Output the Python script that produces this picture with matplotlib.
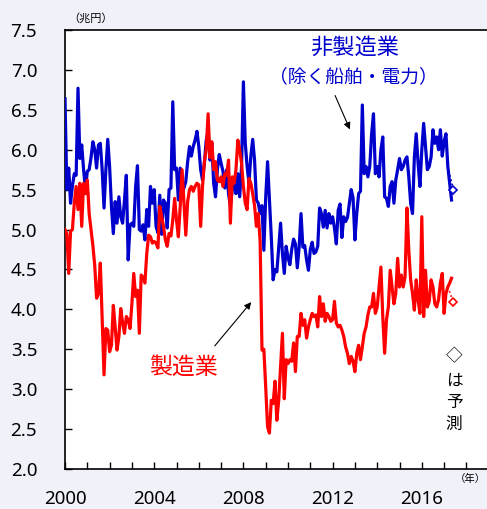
import numpy as np
import matplotlib
matplotlib.use("Agg")
import matplotlib.pyplot as plt
from matplotlib.ticker import MultipleLocator, FixedLocator

# ---- data (monthly, Jan 2000 - May 2017), trillion yen ----
nonmfg = [
    6.64, 5.50, 5.77, 5.33, 5.55, 5.70, 5.68, 6.77, 5.89, 6.06, 5.75, 5.50,  # 2000
    5.73, 5.75, 5.90, 6.10, 6.00, 5.77, 6.06, 6.08, 5.75, 5.27, 5.75, 6.13,  # 2001
    5.79, 5.29, 4.95, 5.35, 5.08, 5.41, 5.16, 5.08, 5.37, 5.68, 4.62, 5.06,  # 2002
    5.08, 5.04, 5.54, 5.80, 5.00, 4.98, 5.06, 4.87, 5.25, 5.04, 5.54, 5.33,  # 2003
    5.50, 5.04, 4.96, 5.43, 4.94, 5.37, 5.33, 5.02, 5.50, 5.52, 6.60, 5.75,  # 2004
    5.77, 5.37, 5.77, 5.45, 5.52, 5.60, 5.85, 6.04, 5.92, 6.04, 6.12, 6.23,  # 2005
    6.04, 5.75, 5.62, 5.83, 6.12, 6.23, 5.87, 6.08, 5.58, 5.41, 5.75, 5.94,  # 2006
    5.83, 5.73, 5.52, 5.75, 5.45, 5.29, 5.50, 5.62, 5.45, 5.70, 5.41, 5.79,  # 2007
    6.85, 6.08, 5.79, 5.58, 5.92, 6.13, 5.87, 5.37, 5.33, 5.20, 5.30, 4.74,  # 2008
    5.40, 5.85, 5.37, 4.91, 4.37, 4.50, 4.47, 4.78, 5.08, 4.70, 4.45, 4.79,  # 2009
    4.65, 4.56, 4.75, 4.88, 4.82, 4.52, 4.78, 5.20, 4.78, 4.80, 4.62, 4.49,  # 2010
    4.75, 4.84, 4.70, 4.72, 4.79, 5.27, 5.20, 5.03, 5.24, 5.02, 5.20, 5.08,  # 2011
    5.16, 5.02, 4.82, 5.24, 5.32, 4.90, 5.16, 5.10, 5.15, 5.32, 5.50, 5.40,  # 2012
    4.87, 5.20, 5.45, 5.48, 6.56, 5.70, 5.79, 5.66, 5.79, 6.20, 6.45, 5.70,  # 2013
    5.79, 5.66, 6.00, 6.16, 5.41, 5.39, 5.29, 5.54, 5.60, 5.33, 5.62, 5.75,  # 2014
    5.89, 5.75, 5.79, 5.87, 5.91, 5.66, 5.33, 5.20, 5.91, 6.20, 5.83, 5.54,  # 2015
    6.00, 6.33, 6.04, 5.75, 5.79, 5.91, 6.25, 6.08, 6.16, 6.00, 6.25, 5.92,  # 2016
    6.10, 6.20, 5.79, 5.58, 5.37,                                            # 2017
]
mfg = [
    5.00, 4.95, 4.45, 4.98, 5.00, 5.33, 5.54, 5.25, 5.58, 5.04, 5.58, 5.45,  # 2000
    5.62, 5.20, 5.00, 4.80, 4.55, 4.14, 4.20, 4.58, 3.90, 3.18, 3.76, 3.74,  # 2001
    3.47, 3.55, 4.05, 3.78, 3.49, 3.66, 4.01, 3.83, 3.70, 3.91, 3.87, 3.76,  # 2002
    4.07, 4.45, 4.16, 4.24, 3.70, 4.43, 4.40, 4.33, 4.70, 4.93, 4.91, 4.83,  # 2003
    4.85, 4.83, 4.77, 5.29, 5.16, 5.04, 4.87, 4.79, 4.95, 4.92, 5.12, 5.39,  # 2004
    5.12, 4.91, 5.29, 5.75, 5.33, 4.93, 5.35, 5.50, 5.54, 5.48, 5.54, 5.58,  # 2005
    5.56, 5.04, 5.54, 5.85, 6.00, 6.45, 5.90, 6.10, 5.75, 5.85, 5.62, 5.60,  # 2006
    5.66, 5.54, 5.70, 5.68, 5.87, 5.08, 5.66, 5.58, 5.75, 6.12, 6.00, 5.83,  # 2007
    5.54, 5.33, 5.25, 5.64, 5.58, 5.45, 5.30, 5.04, 5.20, 4.85, 3.49, 3.50,  # 2008
    3.03, 2.53, 2.45, 2.86, 2.82, 3.10, 2.61, 2.86, 3.28, 3.70, 2.88, 3.37,  # 2009
    3.32, 3.37, 3.35, 3.58, 3.22, 3.66, 3.66, 3.95, 3.80, 3.87, 3.64, 3.78,  # 2010
    3.87, 3.95, 3.91, 3.93, 3.78, 4.16, 3.91, 4.07, 3.85, 3.95, 3.91, 3.85,  # 2011
    3.87, 4.10, 3.83, 3.78, 3.80, 3.74, 3.66, 3.53, 3.45, 3.32, 3.41, 3.35,  # 2012
    3.22, 3.45, 3.55, 3.37, 3.53, 3.70, 3.78, 3.93, 4.03, 4.03, 4.20, 3.95,  # 2013
    4.03, 4.28, 4.53, 3.91, 3.45, 3.87, 4.03, 4.49, 4.28, 4.07, 4.20, 4.64,  # 2014
    4.28, 4.43, 4.28, 4.41, 5.27, 4.74, 4.37, 4.20, 3.99, 4.37, 4.12, 3.95,  # 2015
    5.16, 3.91, 4.49, 4.03, 4.10, 4.37, 4.28, 4.07, 4.03, 4.12, 4.33, 4.45,  # 2016
    3.95, 4.20, 4.28, 4.33, 4.39,                                            # 2017
]
forecast_index = 209          # month index of forecast (Jun 2017)
forecast_nonmfg = 5.50
forecast_mfg = 4.09
dotted_from = 206             # month index the dotted link starts from

y_ticks = [2.0, 2.5, 3.0, 3.5, 4.0, 4.5, 5.0, 5.5, 6.0, 6.5, 7.0, 7.5]
x_label_years = [2000, 2004, 2008, 2012, 2016]

BLUE = "#0000CC"
RED = "#FF0000"
CJK = ["Noto Sans CJK JP", "DejaVu Sans"]

W, H = 487, 509
fig = plt.figure(figsize=(W / 100, H / 100), dpi=100)
fig.patch.set_facecolor("#F1F1FA")

def fp(x, y):
    return (x / W, 1 - y / H)

ax_l, ax_r, ax_t, ax_b = 65, 487, 30, 469
ax = fig.add_axes([ax_l / W, 1 - ax_b / H, (ax_r - ax_l) / W, (ax_b - ax_t) / H])
ax.set_facecolor("white")

x = 2000 + np.arange(len(nonmfg)) / 12.0
ax.plot(x, nonmfg, color=BLUE, lw=2.3, solid_joinstyle="round", zorder=3)
ax.plot(x, mfg, color=RED, lw=2.3, solid_joinstyle="round", zorder=3)

fx = 2000 + forecast_index / 12.0
dx = 2000 + dotted_from / 12.0
ax.plot([dx, fx], [nonmfg[dotted_from], forecast_nonmfg], color=BLUE, lw=1.2, ls=":", zorder=3)
ax.plot([dx, fx], [mfg[dotted_from], forecast_mfg], color=RED, lw=1.2, ls=":", zorder=3)
ax.plot([fx], [forecast_nonmfg], marker="D", ms=4.5, mfc="white", mec=BLUE, mew=1.2, zorder=4)
ax.plot([fx], [forecast_mfg], marker="D", ms=4.5, mfc="white", mec=RED, mew=1.2, zorder=4)

ax.set_xlim(2000, 2000 + (ax_r - ax_l) / 22.3)
ax.set_ylim(2.0, 7.5)

ax.yaxis.set_major_locator(FixedLocator(y_ticks))
ax.set_yticklabels([f"{v:.1f}" for v in y_ticks])
ax.xaxis.set_major_locator(FixedLocator(x_label_years))
ax.set_xticklabels([str(v) for v in x_label_years])
ax.xaxis.set_minor_locator(MultipleLocator(1))

for side in ["left", "top", "bottom"]:
    ax.spines[side].set_color("black")
    ax.spines[side].set_linewidth(1.2)
ax.spines["right"].set_visible(False)

ax.tick_params(axis="y", direction="in", length=5, width=1, pad=20,
               labelsize=13.5, labelcolor="black", right=False)
ax.tick_params(axis="x", which="both", direction="in", length=5, width=1, top=False)
ax.tick_params(axis="x", which="major", pad=15, labelsize=13.5)
for lab in ax.get_xticklabels() + ax.get_yticklabels():
    lab.set_family("Noto Sans")

# annotations
fig.text(*fp(355, 47), "非製造業", color=BLUE, fontsize=16, family=CJK,
         ha="center", va="center")
fig.text(*fp(353, 77), "（除く船舶・電力）", color=BLUE, fontsize=13.5, family=CJK,
         ha="center", va="center")
fig.text(*fp(183, 367), "製造業", color=RED, fontsize=16.5, family=CJK,
         ha="center", va="center")

arrow = dict(arrowstyle="-|>", color="black", lw=0.8, mutation_scale=10)
ax.annotate("", xy=fp(351, 132), xytext=fp(334, 93), xycoords="figure fraction",
            textcoords="figure fraction", arrowprops=arrow)
ax.annotate("", xy=fp(253, 300), xytext=fp(213, 348), xycoords="figure fraction",
            textcoords="figure fraction", arrowprops=arrow)

for ch, yy in zip(["◇", "は", "予", "測"], [357, 381, 402, 424]):
    fig.text(*fp(454, yy), ch, color="black", fontsize=12, family=CJK,
             ha="center", va="center")

fig.text(*fp(91, 18), "（兆円）", color="black", fontsize=8, family=CJK,
         ha="center", va="center")
fig.text(*fp(470, 479), "（年）", color="black", fontsize=7.5, family=CJK,
         ha="center", va="center")

fig.savefig("out.png", dpi=100, facecolor=fig.get_facecolor())
